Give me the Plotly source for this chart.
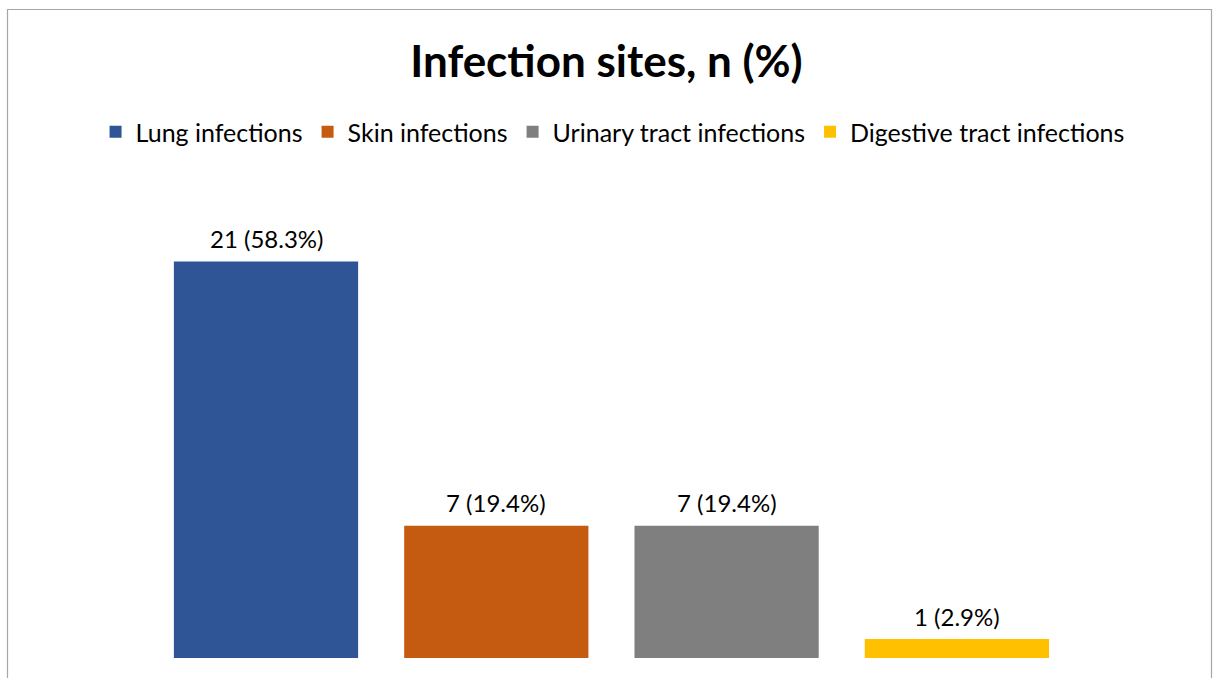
import plotly.graph_objects as go

categories = ["Lung infections", "Skin infections", "Urinary tract infections", "Digestive tract infections"]
counts = [21, 7, 7, 1]
labels = ["21 (58.3%)", "7 (19.4%)", "7 (19.4%)", "1 (2.9%)"]
colors = ["#2F5597", "#C55A11", "#7F7F7F", "#FFC000"]

FONT = "Lato"

fig = go.Figure()
for cat, val, col in zip(categories, counts, colors):
    fig.add_trace(go.Bar(
        x=[cat], y=[val], name=cat,
        marker=dict(color=col, line=dict(width=0)),
        width=0.8, hoverinfo="skip",
    ))

for cat, val, lab in zip(categories, counts, labels):
    fig.add_annotation(x=cat, y=val, text=lab, showarrow=False,
                       xref="x", yref="y", yanchor="middle", yshift=23,
                       font=dict(family=FONT, size=24, color="#000000"))

W, H = 1213, 678
mt, mb = 186, 20
ph = H - mt - mb
# plot spans full width; category spacing ~230.3 px, first category centred at x=266 px
cat_px = 230.3
x0 = -266 / cat_px
x1 = x0 + W / cat_px

def px_x(p):
    return p / W

def px_y(p):
    return (H - mb - p) / ph

fig.add_shape(type="rect", xref="paper", yref="paper",
              x0=px_x(7.5), x1=px_x(1211.5), y0=px_y(700), y1=px_y(9.5),
              line=dict(color="#A6A6A6", width=1.2), fillcolor="rgba(0,0,0,0)", layer="below")

fig.update_layout(
    width=W, height=H,
    margin=dict(l=0, r=0, t=mt, b=mb),
    paper_bgcolor="white", plot_bgcolor="white",
    barmode="overlay",
    title=dict(text="<b>Infection sites, n (%)</b>", x=0.5, xref="paper", xanchor="center",
               y=1 - 62 / H, yref="container", yanchor="middle",
               font=dict(family=FONT, size=44, color="#000000")),
    showlegend=True,
    legend=dict(orientation="h", x=0.505, xanchor="center", xref="container",
                y=1 - 132 / H, yref="container", yanchor="middle",
                font=dict(family=FONT, size=25, color="#000000"),
                itemwidth=30, traceorder="normal", tracegroupgap=0),
    xaxis=dict(showticklabels=False, showline=False, showgrid=False, zeroline=False,
               categoryorder="array", categoryarray=categories, range=[x0, x1]),
    yaxis=dict(range=[0, 25], showticklabels=False, showline=False, showgrid=False, zeroline=False),
)

fig.write_html("out.html", config={"displayModeBar": False},
               post_script="document.body.style.margin='0';document.body.style.overflow='hidden';")
